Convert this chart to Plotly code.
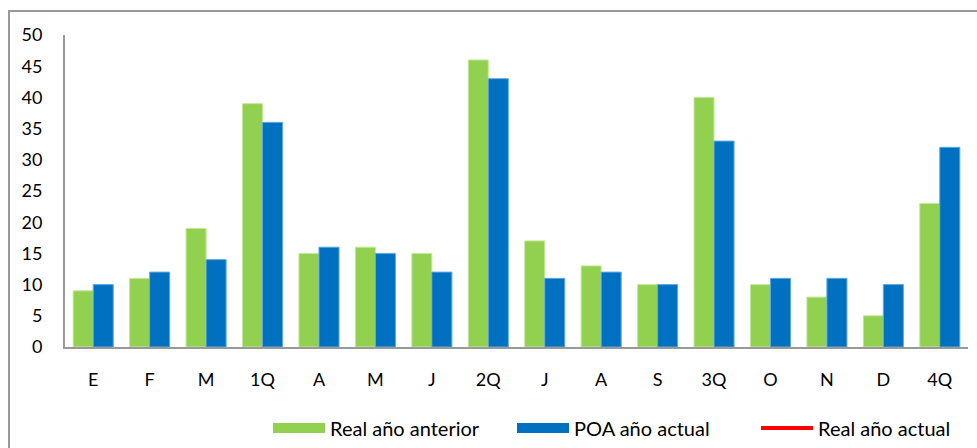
import plotly.graph_objects as go

CHART_WIDTH = 977
CHART_HEIGHT = 448

categories = ['E', 'F', 'M', '1Q', 'A', 'M', 'J', '2Q', 'J', 'A', 'S', '3Q', 'O', 'N', 'D', '4Q']
real_prev = [9, 11, 19, 39, 15, 16, 15, 46, 17, 13, 10, 40, 10, 8, 5, 23]
poa_actual = [10, 12, 14, 36, 16, 15, 12, 43, 11, 12, 10, 33, 11, 11, 10, 32]
real_actual = []  # no data yet for current year
y_ticks = [0, 5, 10, 15, 20, 25, 30, 35, 40, 45, 50]

GREEN = '#92D050'
BLUE = '#0070C0'
RED = '#FF0000'
FONT = 'Lato, Calibri, sans-serif'

pos = list(range(len(categories)))

fig = go.Figure()
fig.add_trace(go.Bar(x=pos, y=real_prev, name='Real año anterior', marker_color=GREEN,
                     marker_line=dict(color='#C4E89A', width=1), showlegend=False))
fig.add_trace(go.Bar(x=pos, y=poa_actual, name='POA año actual', marker_color=BLUE,
                     marker_line=dict(color='#5FA8E0', width=1), showlegend=False))

# legend entries drawn as wide swatches like the original
for name, color, lw in [('Real año anterior', GREEN, 14), ('POA año actual', BLUE, 14),
                        ('Real año actual', RED, 4)]:
    ys = real_actual if (name == 'Real año actual' and real_actual) else [None]
    fig.add_trace(go.Scatter(x=[None] * len(ys), y=ys, mode='lines', name=name,
                             line=dict(color=color, width=lw)))

fig.update_layout(
    width=CHART_WIDTH, height=CHART_HEIGHT,
    margin=dict(l=65, r=9, t=35, b=101, autoexpand=False),
    paper_bgcolor='white', plot_bgcolor='white',
    barmode='group', bargap=0.29, bargroupgap=0,
    font=dict(family=FONT, size=18, color='black'),
    showlegend=True,
    legend=dict(orientation='h', x=(268 - 65) / 903, xanchor='left', y=-0.26, yanchor='middle',
                itemwidth=52, entrywidth=177, entrywidthmode='pixels',
                font=dict(family=FONT, size=20, color='black')),
)
fig.update_xaxes(tickmode='array', tickvals=pos, ticktext=categories,
                 range=[-0.5, len(categories) - 0.5],
                 showline=True, linecolor='#999999', linewidth=2,
                 showgrid=False, ticks='', ticklabelstandoff=15, zeroline=False)
fig.update_yaxes(range=[0, 50], tickmode='array', tickvals=y_ticks,
                 showline=True, linecolor='#999999', linewidth=2,
                 showgrid=False, ticks='', ticklabelstandoff=17, zeroline=False)

# outer chart border
fig.add_shape(type='rect', xref='paper', yref='paper',
              x0=-56 / 903, x1=1.02, y0=-0.36, y1=1 + 24 / 312,
              line=dict(color='#999999', width=2), fillcolor='rgba(0,0,0,0)', layer='below')

fig.write_html('out.html', config={'displayModeBar': False},
               post_script="document.body.style.margin='0';")
